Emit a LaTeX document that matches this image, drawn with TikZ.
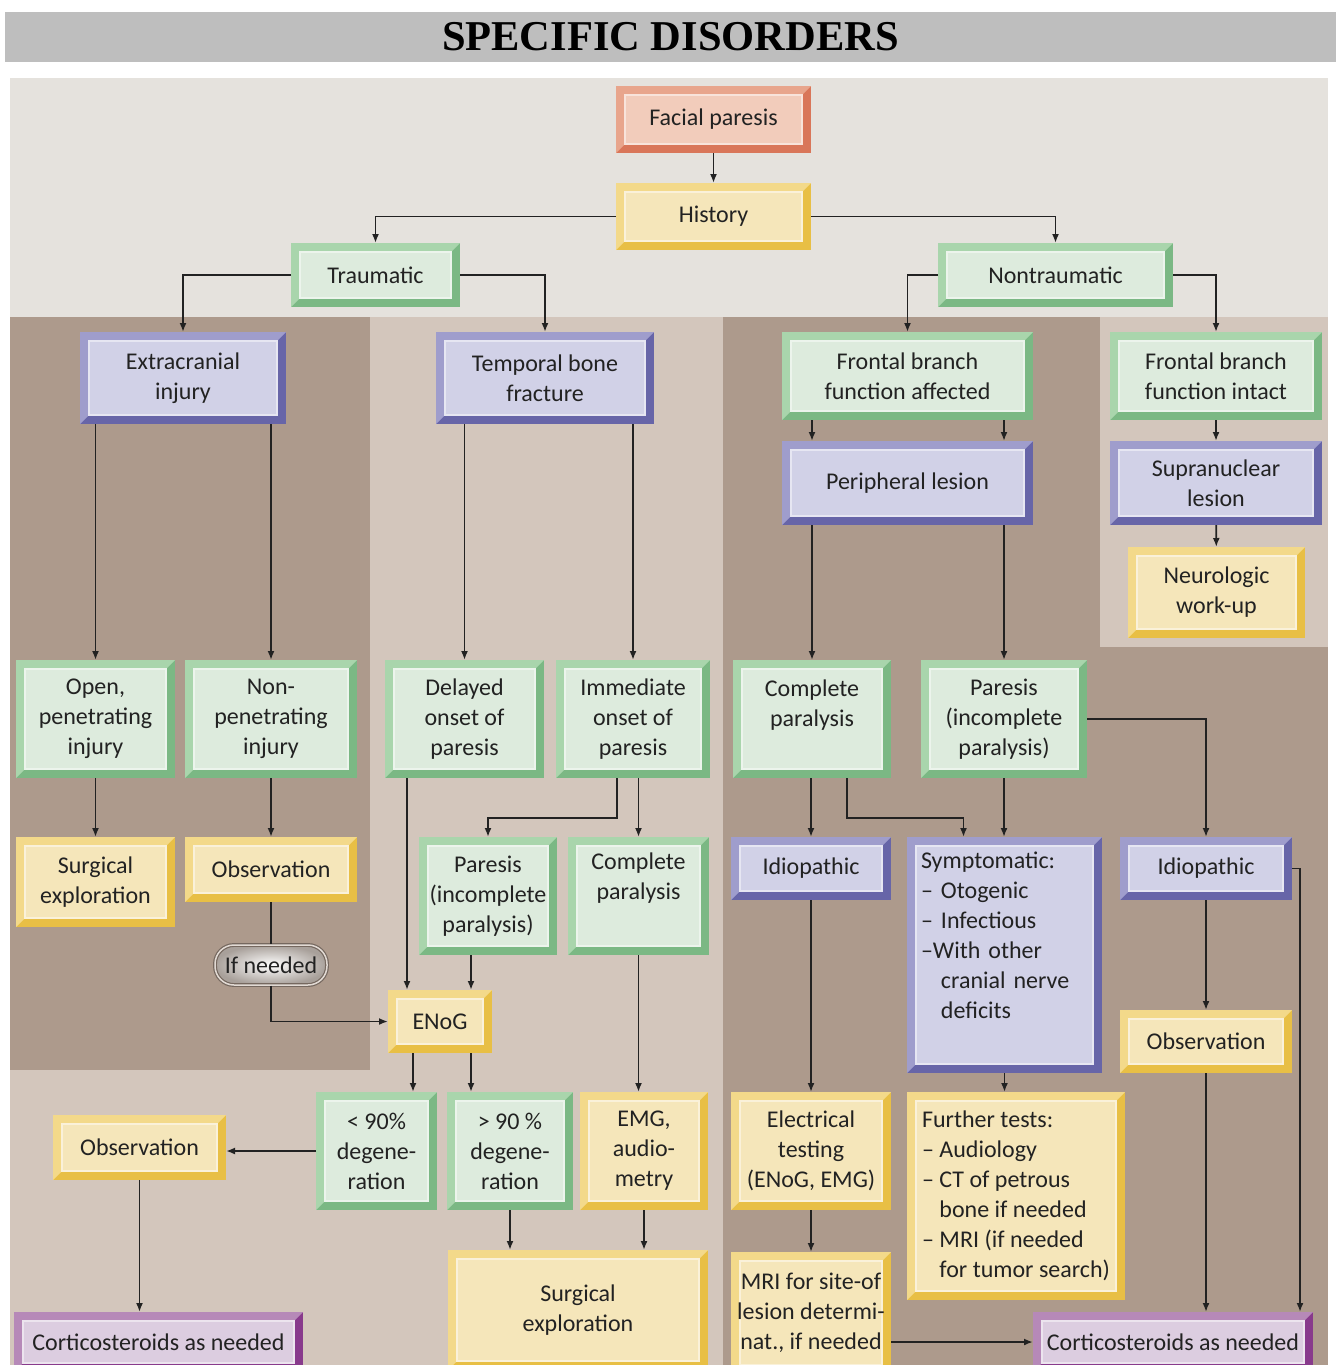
\documentclass[tikz,border=0pt]{standalone}
\usepackage{fontspec}
\setmainfont{Carlito}
\newfontfamily\titlefont{Liberation Serif}
\usepackage{tikz}
\usetikzlibrary{arrows.meta,calc}
\definecolor{ink}{HTML}{222222}
\definecolor{titlegray}{HTML}{BEBEBE}
\definecolor{topback}{HTML}{E5E2DD}
\definecolor{darkback}{HTML}{AD9A8C}
\definecolor{lightback}{HTML}{D3C6BC}
\definecolor{greendk}{HTML}{7BB884}
\definecolor{greenlt}{HTML}{A9D5AC}
\definecolor{greenin}{HTML}{DDEBDD}
\definecolor{yellowdk}{HTML}{E8BF45}
\definecolor{yellowlt}{HTML}{F3D98A}
\definecolor{yellowin}{HTML}{F5E6BA}
\definecolor{bluedk}{HTML}{6765A8}
\definecolor{bluelt}{HTML}{9F9DCC}
\definecolor{bluein}{HTML}{D1D1E7}
\definecolor{reddk}{HTML}{D97659}
\definecolor{redlt}{HTML}{E8A58C}
\definecolor{redin}{HTML}{F2CCBB}
\definecolor{purpledk}{HTML}{883A8C}
\definecolor{purplelt}{HTML}{B689B8}
\definecolor{purplein}{HTML}{DCCDE0}
\definecolor{pilledge}{HTML}{75685F}
\definecolor{pillring}{HTML}{E2DAD4}
\definecolor{pillshade}{HTML}{A8A09A}
\newcommand{\boxfont}{\fontsize{24}{30}\selectfont}
\newcommand{\bevelw}{9pt}

\begin{document}
\begin{tikzpicture}[x=1pt,y=-1pt,font=\boxfont,text=ink,>={Latex[length=9pt,width=7pt]}]
  \tikzset{bevelbox/.style n args={3}{fill=#1,inner sep=0pt,outer sep=0pt,align=center,
      path picture={
        \coordinate (bl) at (path picture bounding box.south west);
        \coordinate (tr) at (path picture bounding box.north east);
        \fill[#2] (bl) -- ++(\bevelw,\bevelw) |- ($(tr)+(-\bevelw,-\bevelw)$) -- (tr) -- (bl |- tr) -- cycle;
        \filldraw[fill=#3,draw=white!45!#3,line width=1.2pt] ($(bl)+(\bevelw,\bevelw)$) rectangle ($(tr)+(-\bevelw,-\bevelw)$);
      }},
    greenbox/.style={bevelbox={greendk}{greenlt}{greenin}},
    yellowbox/.style={bevelbox={yellowdk}{yellowlt}{yellowin}},
    bluebox/.style={bevelbox={bluedk}{bluelt}{bluein}},
    redbox/.style={bevelbox={reddk}{redlt}{redin}},
    purplebox/.style={bevelbox={purpledk}{purplelt}{purplein}},
    dims/.style 2 args={minimum width=#1pt,minimum height=#2pt},
    pill/.style={draw=pilledge,double=pillring,double distance=1.5pt,line width=1.2pt,rounded corners=19pt,
      inner color=white,outer color=pillshade,minimum width=112pt,minimum height=40pt,inner sep=0pt},
    link/.style={->,line width=1.8pt,draw=ink}}

  \useasboundingbox (0,0) rectangle (1336,1365);
  \clip (0,0) rectangle (1336,1365);

  \node[fill=titlegray,minimum width=1331pt,minimum height=50pt,inner sep=0pt,text=black,
    font=\titlefont\bfseries\fontsize{42.5}{50}\selectfont] (title) at (670.5,37) {SPECIFIC DISORDERS};

  \fill[topback] (10,78) rectangle (1328,1365);
  \fill[lightback] (10,317) rectangle (723,1365);
  \fill[darkback] (10,317) rectangle (370,1070);
  \fill[darkback] (723,317) rectangle (1328,1365);
  \fill[lightback] (1100,317) rectangle (1328,647);

  \node[redbox,dims={195}{67}] (facial) at (713.5,119.5) {Facial paresis};
  \node[yellowbox,dims={195}{67}] (history) at (713.5,216.5) {History};
  \node[greenbox,dims={169}{64}] (traumatic) at (375.5,275) {Traumatic};
  \node[greenbox,dims={235}{64}] (nontraumatic) at (1055.5,275) {Nontraumatic};

  \node[bluebox,dims={206}{92}] (extracranial) at (183,378) {Extracranial\\injury};
  \node[bluebox,dims={218}{92}] (temporal) at (545,378) {Temporal bone\\fracture};
  \node[greenbox,dims={251}{88}] (frontaffected) at (907.5,376) {Frontal branch\\function affected};
  \node[greenbox,dims={212}{88}] (frontintact) at (1216,376) {Frontal branch\\function intact};
  \node[bluebox,dims={251}{84}] (peripheral) at (907.5,483) {Peripheral lesion};
  \node[bluebox,dims={212}{84}] (supranuclear) at (1216,483) {Supranuclear\\lesion};
  \node[yellowbox,dims={177}{91}] (neurologic) at (1216.5,592.5) {Neurologic\\work-up};

  \node[greenbox,dims={159}{118}] (openinj) at (95.5,719) {Open,\\penetrating\\injury};
  \node[greenbox,dims={172}{118}] (nonpen) at (271,719) {Non-\\penetrating\\injury};
  \node[greenbox,dims={159}{118}] (delayed) at (464.5,719) {Delayed\\onset of\\paresis};
  \node[greenbox,dims={154}{118}] (immediate) at (633,719) {Immediate\\onset of\\paresis};
  \node[greenbox,dims={158}{118}] (complright) at (812,719) {Complete\\paralysis\\[-8pt]\strut};
  \node[greenbox,dims={166}{118}] (paresright) at (1004,719) {Paresis\\(incomplete\\paralysis)};

  \node[yellowbox,dims={159}{90}] (surgleft) at (95.5,882) {Surgical\\exploration};
  \node[yellowbox,dims={172}{65}] (obsleft) at (271,869.5) {Observation};
  \node[pill] (ifneeded) at (271,965) {If needed};
  \node[greenbox,dims={138}{118}] (paresmid) at (488,896) {Paresis\\(incomplete\\paralysis)};
  \node[greenbox,dims={141}{118}] (complmid) at (638.5,896) {Complete\\paralysis\\\strut};
  \node[yellowbox,dims={104}{63}] (enog) at (440,1021.5) {ENoG};

  \node[greenbox,dims={121}{118}] (below90) at (376.5,1151) {< 90\%\\degene-\\ration};
  \node[greenbox,dims={126}{118}] (above90) at (510,1151) {> 90 \%\\degene-\\ration};
  \node[yellowbox,dims={128}{118}] (emg) at (644,1151) {EMG,\\audio-\\metry};
  \node[yellowbox,dims={173}{65}] (obslow) at (139.5,1147.5) {Observation};
  \node[purplebox,dims={289}{60}] (cortleft) at (158.5,1342) {Corticosteroids as needed};
  \node[yellowbox,dims={260}{120}] (surgbottom) at (578,1310) {Surgical\\exploration};

  \node[bluebox,dims={160}{63}] (idioleft) at (811,868.5) {Idiopathic};
  \node[bluebox,dims={195}{236},text width=167pt,align=left] (symptomatic) at (1004.5,955)
    {Symptomatic:\\-- Otogenic\\-- Infectious\\--With other\\\phantom{-- }cranial nerve\\\phantom{-- }deficits\\\strut};
  \node[yellowbox,dims={218}{208},align=left] (further) at (1016,1196)
    {Further tests:\\-- Audiology\\-- CT of petrous\\\phantom{-- }bone if needed\\-- MRI (if needed\\\phantom{-- }for tumor search)};
  \node[bluebox,dims={172}{63}] (idioright) at (1206,868.5) {Idiopathic};
  \node[yellowbox,dims={172}{63}] (obsright) at (1206,1041.5) {Observation};
  \node[yellowbox,dims={160}{118}] (electrical) at (811,1151) {Electrical\\testing\\(ENoG, EMG)};
  \node[yellowbox,dims={160}{122}] (mri) at (811,1313) {MRI for site-of\\lesion determi-\\nat., if needed};
  \node[purplebox,dims={280}{60}] (cortright) at (1173,1342) {Corticosteroids as needed};

  \draw[link] (facial) -- (history);
  \draw[link] (history.west) -| (traumatic.north);
  \draw[link] (history.east) -| (nontraumatic.north);
  \draw[link] (traumatic.west) -| (extracranial.north);
  \draw[link] (traumatic.east) -| (temporal.north);
  \draw[link] (nontraumatic.west) -| (frontaffected.north);
  \draw[link] (nontraumatic.east) -| (frontintact.north);
  \draw[link] (frontaffected.south -| complright) -- (peripheral.north -| complright);
  \draw[link] (frontaffected.south -| paresright) -- (peripheral.north -| paresright);
  \draw[link] (frontintact) -- (supranuclear);
  \draw[link] (supranuclear) -- (neurologic);

  \draw[link] (extracranial.south -| openinj) -- (openinj.north);
  \draw[link] (extracranial.south -| nonpen) -- (nonpen.north);
  \draw[link] (temporal.south -| delayed) -- (delayed.north);
  \draw[link] (temporal.south -| immediate) -- (immediate.north);
  \draw[link] (peripheral.south -| complright) -- (complright.north);
  \draw[link] (peripheral.south -| paresright) -- (paresright.north);

  \draw[link] (openinj) -- (surgleft);
  \draw[link] (nonpen.south) -- (obsleft.north);
  \draw[line width=1.8pt,ink] (obsleft.south) -- (ifneeded.north);
  \draw[link] (ifneeded.south) |- (enog.west);
  \draw[link] ([xshift=-16pt]immediate.south) -- ++(0,40) -| (paresmid.north);
  \draw[link] (immediate.south -| complmid) -- (complmid.north);
  \draw[link] ([xshift=-33pt]enog.north |- delayed.south) -- ([xshift=-33pt]enog.north);
  \draw[link] ([xshift=31pt]enog.north |- paresmid.south) -- ([xshift=31pt]enog.north);

  \draw[link] ([xshift=-27pt]enog.south) -- ([xshift=-27pt]enog.south |- below90.north);
  \draw[link] ([xshift=31pt]enog.south) -- ([xshift=31pt]enog.south |- above90.north);
  \draw[link] (complmid.south) -- (complmid.south |- emg.north);
  \draw[link] (below90.west) -- (below90.west -| obslow.east);
  \draw[link] (obslow.south) -- (obslow.south |- cortleft.north);
  \draw[link] (above90.south) -- (above90.south |- surgbottom.north);
  \draw[link] (emg.south) -- (emg.south |- surgbottom.north);

  \draw[link] (complright.south -| idioleft) -- (idioleft.north);
  \draw[link] ([xshift=35pt]complright.south) -- ++(0,40) -| ([xshift=-41pt]symptomatic.north);
  \draw[link] (paresright.south) -- (paresright.south |- symptomatic.north);
  \draw[link] (paresright.east) -| (idioright.north);
  \draw[link] (idioleft) -- (electrical);
  \draw[link] (symptomatic.south) -- (symptomatic.south |- further.north);
  \draw[link] (idioright) -- (obsright);
  \draw[link] (electrical) -- (mri);
  \draw[link] (obsright.south) -- (obsright.south |- cortright.north);
  \draw[link] (idioright.east) -| ([xshift=127pt]cortright.north);
  \draw[link] (mri.east |- cortright.west) -- (cortright.west);
\end{tikzpicture}
\end{document}
